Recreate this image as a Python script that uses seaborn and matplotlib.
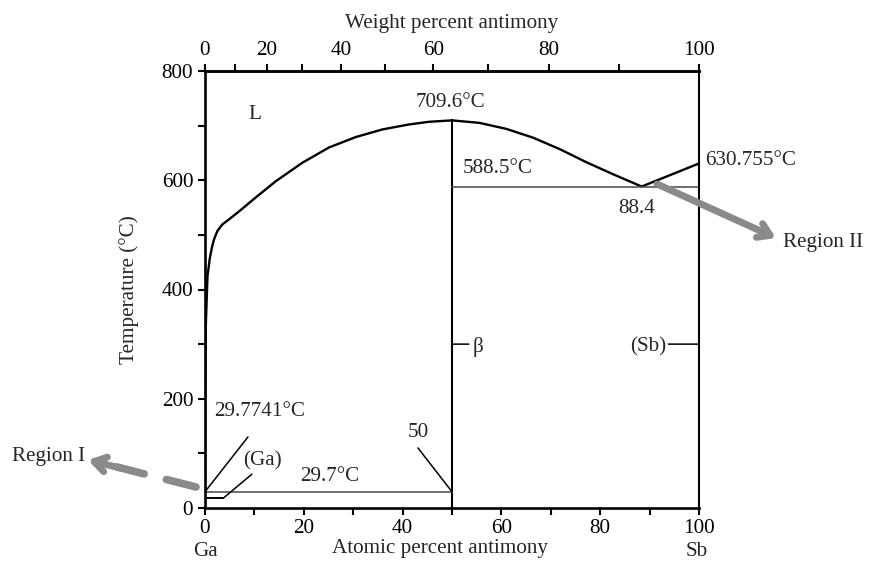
import numpy as np
import pandas as pd
import matplotlib
matplotlib.use("Agg")
import matplotlib.pyplot as plt
import seaborn as sns

# ---- data (atomic percent Sb, temperature in deg C) ----
liq_ga_x = [0, 0.05, 0.15, 0.5, 0.95, 1.4, 1.8, 2.5, 3.5, 4.8, 6.9, 10.2, 14.3, 19.7, 25.1, 30.5, 35.9, 41.2, 45.3, 50]
liq_ga_t = [29.8, 200, 330, 424, 456, 477, 491, 507, 519, 528, 543, 568, 598, 632, 660, 679, 693, 702, 707, 709.6]
liq_mid_x = [50, 55.6, 61.0, 66.4, 71.8, 77.2, 82.6, 88.4]
liq_mid_t = [709.6, 705, 694, 678, 657, 633, 611, 588.5]
liq_sb_x = [88.4, 100]
liq_sb_t = [588.5, 630.755]
beta_x = [50, 50]
beta_t = [0, 709.6]
eut1_x = [0, 50]
eut1_t = [29.7, 29.7]
eut2_x = [50, 100]
eut2_t = [588.5, 588.5]
ga_ss_x = [0, 3.7]
ga_ss_t = [18, 18]

x_ticks = [0, 20, 40, 60, 80, 100]
x_minor = [10, 30, 50, 70, 90]
y_ticks = [0, 200, 400, 600, 800]
y_minor = [100, 300, 500, 700]
wt_ticks = [0, 20, 40, 60, 80, 100]
wt_minor = [10, 30, 50, 70, 90]

M_GA, M_SB = 69.723, 121.76

def at2wt(a):
    a = np.clip(np.asarray(a, dtype=float), 0, 100)
    return 100 * a * M_SB / (a * M_SB + (100 - a) * M_GA)

def wt2at(w):
    w = np.clip(np.asarray(w, dtype=float), 0, 100)
    return 100 * (w / M_SB) / (w / M_SB + (100 - w) / M_GA)

sns.set_theme(style="ticks")
plt.rcParams['font.family'] = ['Liberation Serif', 'DejaVu Serif']
plt.rcParams['mathtext.fontset'] = 'dejavuserif'
FS = 15.2

W, H = 870, 575
fig = plt.figure(figsize=(W / 100, H / 100), dpi=100)
ax = fig.add_axes([205 / W, (H - 508) / H, 494 / W, 437 / H])

def seg(x, t, **kw):
    df = pd.DataFrame({"x": x, "t": t})
    sns.lineplot(data=df, x="x", y="t", estimator=None, sort=False, ax=ax, **kw)

seg(liq_ga_x, liq_ga_t, color="black", lw=1.7)
seg(liq_mid_x, liq_mid_t, color="black", lw=1.7)
seg(liq_sb_x, liq_sb_t, color="black", lw=1.7)
seg(beta_x, beta_t, color="black", lw=1.5)
seg(eut1_x, eut1_t, color="#555555", lw=1.2)
seg(eut2_x, eut2_t, color="#555555", lw=1.2)
seg(ga_ss_x, ga_ss_t, color="black", lw=1.4)

ax.set_xlim(0, 100)
ax.set_ylim(0, 800)
for s in ["left", "bottom", "top", "right"]:
    ax.spines[s].set_visible(True)
    ax.spines[s].set_linewidth(1.9)
    ax.spines[s].set_color("black")
ax.spines["right"].set_linewidth(1.5)

ax.set_xticks(x_ticks)
ax.set_xticks(x_minor, minor=True)
ax.set_yticks(y_ticks)
ax.set_yticks(y_minor, minor=True)
ax.tick_params(axis="both", which="both", direction="out", length=5, width=1.5,
               labelsize=FS, colors="black", top=False, right=False)
ax.tick_params(axis="x", pad=3)
ax.set_xlabel("")
ax.set_ylabel("Temperature (°C)", fontsize=FS, labelpad=16)

sec = ax.secondary_xaxis("top", functions=(at2wt, wt2at))
sec.set_xticks(wt_ticks)
sec.set_xticks(wt_minor, minor=True)
sec.tick_params(axis="x", which="both", direction="out", length=5, width=1.5,
                labelsize=FS, colors="black", pad=3)
sec.spines["top"].set_linewidth(1.9)
sec.set_xlabel("Weight percent antimony", fontsize=FS, labelpad=9)

def fp(x, y):
    return (x, H - y)

fig.text(440 / W, 1 - 548 / H, "Atomic percent antimony", ha="center", va="center", fontsize=FS)
fig.text(205 / W, 1 - 551 / H, "Ga", ha="center", va="center", fontsize=FS)
fig.text(697 / W, 1 - 551 / H, "Sb", ha="center", va="center", fontsize=FS)

# labels inside plot
ax.text(10.1, 720, "L", ha="center", va="center", fontsize=FS)
ax.text(49.6, 742, "709.6°C", ha="center", va="center", fontsize=FS)
ax.text(59.3, 621, "588.5°C", ha="center", va="center", fontsize=FS)
ax.text(87.4, 549, "88.4", ha="center", va="center", fontsize=FS)
ax.text(101.2, 636, "630.755°C", ha="left", va="center", fontsize=FS, clip_on=False)
ax.text(11.1, 176, "29.7741°C", ha="center", va="center", fontsize=FS)
ax.text(11.6, 86, "(Ga)", ha="center", va="center", fontsize=FS)
ax.text(25.3, 57, "29.7°C", ha="center", va="center", fontsize=FS)
ax.text(43.2, 139, "50", ha="center", va="center", fontsize=FS)
ax.text(55.3, 295, "β", ha="center", va="center", fontsize=FS)
ax.text(93.4, 295, "(Sb)", ha="right", va="center", fontsize=FS)

# leaders
lead = dict(arrowstyle="-", color="black", lw=1.1, shrinkA=0, shrinkB=0)
ax.annotate("", xy=(0, 29.7), xytext=(8.7, 130), arrowprops=lead)
ax.annotate("", xy=(50, 29.7), xytext=(43.1, 110), arrowprops=lead)
ax.annotate("", xy=(3.7, 18), xytext=(9.5, 62), arrowprops=lead)
ax.annotate("", xy=(50, 300), xytext=(53.4, 300), arrowprops=lead)
ax.annotate("", xy=(93.8, 300), xytext=(100, 300), arrowprops=lead)

# region arrows (figure pixels)
gray = "#8a8a8a"
ax.annotate("", xy=fp(117, 467), xytext=fp(196, 487), xycoords="figure pixels",
            textcoords="figure pixels",
            arrowprops=dict(arrowstyle="-", color=gray, lw=5.5, linestyle=(0, (4, 3)),
                            shrinkA=0, shrinkB=0), annotation_clip=False)
ax.annotate("", xy=fp(88, 460), xytext=fp(120, 468), xycoords="figure pixels",
            textcoords="figure pixels",
            arrowprops=dict(arrowstyle="->,head_length=0.7,head_width=0.45", color=gray, lw=5,
                            shrinkA=0, shrinkB=0), annotation_clip=False)
fig.text(12 / W, 1 - 456 / H, "Region I", ha="left", va="center", fontsize=FS)

ax.annotate("", xy=fp(776, 238), xytext=fp(657, 184), xycoords="figure pixels",
            textcoords="figure pixels",
            arrowprops=dict(arrowstyle="->,head_length=0.7,head_width=0.45", color=gray, lw=5,
                            shrinkA=0, shrinkB=0), annotation_clip=False)
fig.text(783 / W, 1 - 242 / H, "Region II", ha="left", va="center", fontsize=FS)

fig.savefig("out.png", dpi=100)
